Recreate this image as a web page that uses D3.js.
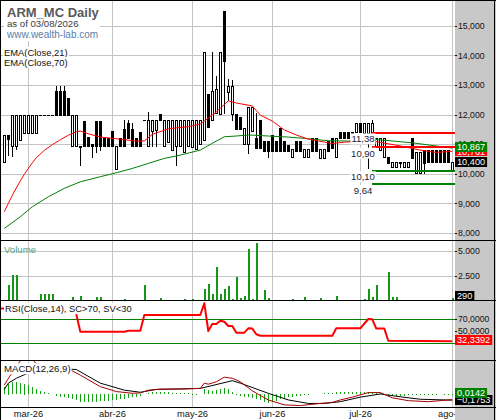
<!DOCTYPE html>
<html><head><meta charset="utf-8">
<script src="https://cdn.jsdelivr.net/npm/d3@7"></script>
<style>body{margin:0;background:#fff}svg{display:block}text{font-family:"Liberation Sans",Arial,sans-serif}</style>
</head><body><svg id="c" width="496" height="420"></svg>
<script>
// ---------- DATA ----------
const opens = [10400,11300,10950,10950,11150,11370,11370,11370,11370,12000,12000,12000,12000,12800,12800,12800,12550,10950,10950,10950,
11780,11250,11000,11780,11780,11200,11200,11450,10150,11200,11500,11720,11500,11200,11400,11800,10950,11450,11480,12020,
10950,11080,10800,10950,10950,10750,10950,10900,10850,11000,11150,12680,11810,12040,12010,15500,12770,12010,12010,11920,
11000,11000,11440,11220,11810,11120,11120,11300,11120,11530,11120,10970,10570,11120,11120,10570,10570,11220,11220,10520,
10520,11100,11220,10570,11420,11420,11420,11420,11420,11700,11380,11380,11380,10940,10800,10570,10570,10220,10220,10400,
10220,10220,11200,10010,10010,10800,10800,10800,10800,10800,10800,10800,10090];
const highs = [11300,11300,12000,12000,12000,12000,12000,12000,12000,12000,12000,12000,12000,12950,12950,12950,12550,12000,12000,10950,
11780,11250,11000,11780,11780,11200,11200,11450,10950,11200,11800,11800,11720,11200,11400,11800,12100,11800,11800,12020,
11800,11800,11800,11800,11800,11800,11800,11800,11800,11800,14100,12680,14120,13300,14100,15500,13200,13170,12010,11920,
11530,12260,12260,12040,11810,11120,11120,11300,11120,11530,11120,10970,10820,11120,11120,10820,10820,11220,11220,10820,
10820,11100,11220,11220,11420,11420,11420,11420,11700,11700,11700,11700,11810,11200,11200,11200,10570,10400,10400,10400,
10400,10400,11200,10740,10740,10800,10800,10800,10800,10800,10800,10800,10400];
const lows = [10400,10630,10600,10850,11150,11370,11370,11370,11370,12000,12000,12000,12000,12000,12000,12000,12000,10950,10950,10300,
10950,10950,10550,10750,10800,10950,10950,10950,10150,10950,10950,11200,10950,10950,10950,11800,10950,10950,10950,11800,
10950,11080,10800,10300,10950,10750,10950,10900,10850,11000,11150,11590,11810,12040,12010,12040,12490,11810,11500,11500,
11000,10690,11440,10880,10860,10780,10570,10780,10780,10780,10780,10780,10570,10780,10780,10570,10570,10780,10780,10520,
10520,10780,10860,10570,11200,11200,11200,11200,11420,11420,11380,10180,11380,10940,10800,10570,10350,10220,10220,10220,
10220,10220,10520,10010,10010,10010,10400,10400,10400,10400,10400,10400,10090];
const closes = [11300,11160,12000,12000,12000,12000,12000,12000,12000,12000,12000,12000,12000,12000,12000,12000,12000,12000,12000,10950,
10950,10950,10950,10950,10950,10950,10950,10950,10950,10950,10950,11200,10950,10950,10950,11800,11800,11800,11800,11800,
11800,11800,11800,11800,11800,11800,11800,11800,11800,11800,14100,11590,12790,12870,14100,13800,12970,12970,11500,11500,
11530,12260,12260,10880,10860,10780,10780,10780,10780,10780,10780,10780,10820,10780,10780,10820,10820,10780,10780,10820,
10820,10780,10860,11220,11200,11200,11200,11200,11700,11420,11700,11700,11700,11200,11200,11200,10350,10400,10400,10400,
10400,10400,10520,10740,10740,10350,10400,10400,10400,10400,10400,10400,10400];
const volumes = [0,1530,2620,2620,100,0,0,0,0,680,680,680,680,100,100,100,100,400,0,500,
100,0,0,400,400,0,0,0,100,0,150,0,0,0,0,1530,100,0,100,300,
0,0,0,100,0,150,0,200,0,0,1120,1700,610,3370,610,1120,1430,200,2350,300,
500,5200,200,5810,100,1020,300,0,0,0,100,0,150,0,0,400,0,100,100,300,
0,0,0,500,0,0,0,0,0,0,150,1120,400,1530,0,100,2860,400,400,0,
100,100,0,100,100,0,0,0,0,0,0,100,290];
const ema21Idx = [0,1,2,3,4,5,6,7,8,10,12,14,16,18,19,21,24,29,33,35,37,41,46,49,51,53,56,58,62,64,67,70,73,76,80,82,85,89,91,94,99,104,108,112];
const ema21Val = [8720,9000,9270,9520,9760,9980,10180,10370,10540,10790,10980,11150,11300,11420,11440,11350,11240,11170,11100,11110,11330,11520,11590,11680,11880,12090,12460,12390,12290,11980,11780,11480,11310,11170,11070,11020,11070,11085,11140,11060,10940,10800,10720,10761];
const ema70Idx = [0,4,7,11,15,19,24,28,32,36,40,44,49,52,55,58,61,66,71,75,81,86,92,102,112];
const ema70Val = [8155,8547,8885,9223,9507,9730,9900,10035,10180,10350,10520,10630,10800,11030,11250,11275,11310,11275,11240,11195,11115,11105,11170,11045,10867];
const rsiIdx = [18,19,30,31,34,35,49,50,51,52,53,54,55,56,57,58,60,61,62,63,64,82,83,89,91,92,93,95,96,112];
const rsiVal = [77.3,48.3,48.3,50,50,76.2,76.2,95.7,49.5,61.2,61.2,66.7,65,57.8,57.8,46.7,46.7,54,53.5,44,41.7,41.7,54,54,69.5,69,53.5,53.5,33.3,32.3392];
const macdIdx = [0,2,4,5,7,8,12,16,17,19,24,28,32,34,36,39,44,49,50,51,53,55,57,59,62,66,70,74,79,82,84,87,91,94,97,101,106,112];
const macdVal = [0.26,0.62,0.95,1.0,1.0,0.86,0.8,0.72,0.66,0.54,0.21,0.07,0.02,0.03,0.11,0.14,0.14,0.16,0.31,0.28,0.35,0.48,0.45,0.35,0.09,-0.17,-0.31,-0.33,-0.27,-0.24,-0.17,-0.09,0.04,0.04,-0.11,-0.19,-0.22,-0.161];
const sigIdx = [0,1,3,6,10,16,18,24,30,34,38,49,57,59,66,71,76,80,84,89,94,99,104,112];
const sigVal = [0.13,0.31,0.45,0.6,0.7,0.71,0.70,0.31,0.11,0.05,0.13,0.16,0.38,0.31,0.02,-0.17,-0.27,-0.27,-0.22,-0.09,0.0,-0.08,-0.15,-0.1753];
const histVal = [0.21,0.30,0.35,0.33,0.32,0.30,0.26,0.21,0.14,0.10,0.05,0.03,0,-0.06,-0.08,-0.10,-0.12,-0.15,-0.17,-0.22,
-0.24,-0.24,-0.24,-0.22,-0.20,-0.20,-0.19,-0.17,-0.17,-0.15,-0.13,-0.11,-0.10,-0.08,-0.06,0,0.04,0.06,0.07,0.07,
0.06,0.05,0.04,0.03,0.02,0.02,0.02,0.01,0.01,0,0.13,0.11,0.10,0.11,0.13,0.16,0.13,0.07,-0.03,-0.06,
-0.08,-0.10,-0.12,-0.15,-0.17,-0.22,-0.25,-0.24,-0.19,-0.15,-0.12,-0.10,-0.08,-0.06,-0.05,-0.04,-0.03,0,0,0,
0.02,0.03,0.04,0.05,0.05,0.06,0.06,0.07,0.07,0.07,0.06,0.06,0.05,0.04,0.02,-0.03,-0.06,-0.06,-0.06,-0.05,
-0.05,-0.04,-0.04,-0.04,-0.03,-0.03,-0.03,-0.02,-0.01,0,0.005,0.01,0.0142];
const monthIdx = [6,27,47,67,89,112];
const monthLabels = ["mar-26","abr-26","may-26","jun-26","jul-26","ago-26"];
const priceTicks = [8000,9000,10000,11000,12000,13000,14000,15000];
const volTicks = [2500,5000];
const rsiTicks = [50,70];
const resLevels = [11380,10900];
const resLabels = ["11,38","10,90"];
const supLevels = [10100,9640];
const supLabels = ["10,10","9,64"];
const levelStartIdx = 92;

// ---------- SETUP ----------
const W = 496, H = 420, PR = 455.5;
const svg = d3.select('#c');
const x = d3.scaleLinear().domain([0,112]).range([4.3,452.3]);
const yP = d3.scaleLinear().domain([8000,15000]).range([233.0,25.7]);
const yV = d3.scaleLinear().domain([0,5000]).range([300.5,251.2]);
const yR = d3.scaleLinear().domain([30,70]).range([342.7,318.7]);
const yM = d3.scaleLinear().domain([0,0.5]).range([394,376.5]);
const px = i => Math.round(x(i));
const enFmt = d3.format(",");
const es = d3.formatLocale({decimal:",",thousands:".",grouping:[3],currency:["","€"]});
const volFmt = es.format(",");
const rsiFmt = es.format(".4f");
const C_GRID = "#c4c4c4";

svg.append('rect').attr('width',W).attr('height',H).attr('fill','#fff');
const defs = svg.append('defs');
function clip(id,y0,y1){defs.append('clipPath').attr('id',id).append('rect').attr('x',0).attr('y',y0).attr('width',PR).attr('height',y1-y0);}
clip('cMain',1,240); clip('cVol',241,300); clip('cRsi',301,360); clip('cMacd',361,407);

const grid = svg.append('g').attr('shape-rendering','crispEdges').attr('stroke',C_GRID).attr('stroke-width',1);
// vertical month gridlines
grid.selectAll('line.v').data(monthIdx).join('line').attr('class','v')
  .attr('x1',d=>px(d)+0.5).attr('x2',d=>px(d)+0.5).attr('y1',0).attr('y2',407);
// horizontal price gridlines
grid.selectAll('line.hp').data(priceTicks).join('line').attr('class','hp')
  .attr('x1',0).attr('x2',PR).attr('y1',d=>Math.round(yP(d))+0.5).attr('y2',d=>Math.round(yP(d))+0.5);
grid.selectAll('line.hv').data(volTicks).join('line').attr('class','hv')
  .attr('x1',0).attr('x2',PR).attr('y1',d=>Math.round(yV(d))+0.5).attr('y2',d=>Math.round(yV(d))+0.5);

// ---------- MAIN PANEL ----------
const main = svg.append('g').attr('clip-path','url(#cMain)');
const idx = d3.range(opens.length);
const cg = main.append('g').attr('shape-rendering','crispEdges');
idx.forEach(i=>{
  const o=opens[i],h=highs[i],l=lows[i],c=closes[i];
  const cx = px(i);
  if(o===h && h===l && l===c){
    const yy = Math.round(yP(c))+0.5;
    cg.append('line').attr('x1',cx-1).attr('x2',cx+2).attr('y1',yy).attr('y2',yy).attr('stroke','#000');
    return;
  }
  cg.append('line').attr('x1',cx+0.5).attr('x2',cx+0.5).attr('y1',Math.round(yP(h))).attr('y2',Math.round(yP(l))+1).attr('stroke','#000');
  const top = Math.round(yP(Math.max(o,c))), bot = Math.round(yP(Math.min(o,c)));
  cg.append('rect').attr('x',cx-0.5).attr('y',top+0.5).attr('width',2).attr('height',Math.max(1,bot-top))
    .attr('fill', c>=o ? '#fff' : '#000').attr('stroke','#000');
});
const lineGen = (ys) => d3.line().x(d=>x(d[0])).y(d=>ys(d[1]));
main.append('path').datum(d3.zip(ema70Idx,ema70Val)).attr('d',lineGen(yP)).attr('fill','none').attr('stroke','#008000').attr('stroke-width',1);
main.append('path').datum(d3.zip(ema21Idx,ema21Val)).attr('d',lineGen(yP)).attr('fill','none').attr('stroke','#ff0000').attr('stroke-width',1);

// support / resistance
const lv = main.append('g').attr('shape-rendering','crispEdges');
function level(v,col){ const yy=Math.round(yP(v)); lv.append('rect').attr('x',x(levelStartIdx)).attr('y',yy-1).attr('width',PR-x(levelStartIdx)).attr('height',2).attr('fill',col); }
resLevels.forEach(v=>level(v,'#ff0000'));
supLevels.forEach(v=>level(v,'#008000'));

function textBg(g,tx,ty,txt,size,fill,anchor,weight){
  const t = g.append('text').attr('x',tx).attr('y',ty).attr('font-size',size).attr('fill',fill)
    .attr('text-anchor',anchor||'start').attr('font-weight',weight||'normal').text(txt);
  const b = t.node().getBBox();
  g.insert('rect',()=>t.node()).attr('x',b.x-1).attr('y',b.y).attr('width',b.width+2).attr('height',b.height).attr('fill','#fff');
  return t;
}
const lab = svg.append('g');
resLevels.forEach((v,k)=>textBg(lab,363,yP(v)+9.5,resLabels[k],9.5,'#1a1a3a','middle'));
supLevels.forEach((v,k)=>textBg(lab,363,yP(v)+9.5,supLabels[k],9.5,'#1a1a3a','middle'));

// title block
const tb = svg.append('g');
tb.append('rect').attr('x',4).attr('y',2).attr('width',96).attr('height',39).attr('fill','#fff');
tb.append('text').attr('x',7).attr('y',16.7).attr('font-size',13).attr('font-weight','bold').attr('fill','#595959').text('ARM_MC Daily');
tb.append('text').attr('x',7).attr('y',27.3).attr('font-size',9.6).attr('fill','#3a3a3a').text('as of 03/08/2026');
tb.append('text').attr('x',7).attr('y',37.5).attr('font-size',10).attr('fill','#5a7ea8').text('www.wealth-lab.com');
textBg(tb,4,55.7,'EMA(Close,21)',9.4,'#111');
textBg(tb,4,66.2,'EMA(Close,70)',9.4,'#111');

// ---------- VOLUME ----------
const vol = svg.append('g').attr('clip-path','url(#cVol)').attr('shape-rendering','crispEdges');
vol.selectAll('rect').data(idx.filter(i=>volumes[i]>0)).join('rect')
  .attr('x',i=>px(i)-0.5).attr('width',2)
  .attr('y',i=>Math.round(yV(volumes[i]))).attr('height',i=>Math.max(1,300-Math.round(yV(volumes[i]))))
  .attr('fill','#169616');
svg.append('text').attr('x',4).attr('y',253.3).attr('font-size',9.6).attr('fill','#5a9e78').text('Volume');

// ---------- RSI ----------
const rg = svg.append('g');
rg.selectAll('line').data([30,70]).join('line').attr('shape-rendering','crispEdges')
  .attr('x1',0).attr('x2',PR).attr('y1',d=>Math.round(yR(d))+0.5).attr('y2',d=>Math.round(yR(d))+0.5)
  .attr('stroke','#008000');
rg.append('path').attr('clip-path','url(#cRsi)').datum(d3.zip(rsiIdx,rsiVal)).attr('d',lineGen(yR))
  .attr('fill','none').attr('stroke','#ff0000').attr('stroke-width',2).attr('stroke-linejoin','round');
rg.append('line').attr('x1',1).attr('x2',4).attr('y1',308.5).attr('y2',308.5).attr('stroke','#ff0000').attr('stroke-width',2);
textBg(rg,5,311.6,'RSI(Close,14), SC>70, SV<30',9.4,'#111');

// ---------- MACD ----------
const mg = svg.append('g').attr('clip-path','url(#cMacd)');
mg.append('g').attr('shape-rendering','crispEdges').selectAll('rect').data(idx.filter(i=>histVal[i]!==0)).join('rect')
  .attr('x',i=>px(i)).attr('width',1)
  .attr('y',i=>Math.round(yM(Math.max(0,histVal[i]))))
  .attr('height',i=>Math.max(1,Math.round(Math.abs(yM(histVal[i])-yM(0)))))
  .attr('fill','#12a012');
mg.append('path').datum(d3.zip(sigIdx,sigVal)).attr('d',lineGen(yM)).attr('fill','none').attr('stroke','#000').attr('stroke-width',1);
mg.append('path').datum(d3.zip(macdIdx,macdVal)).attr('d',lineGen(yM)).attr('fill','none').attr('stroke','#a80000').attr('stroke-width',1);
textBg(svg,4,372.3,'MACD(12,26,9)',9.6,'#111');

// ---------- X AXIS LABELS ----------
svg.append('g').selectAll('text').data(monthIdx).join('text')
  .attr('x',d=>px(d)+0.5).attr('y',416.6).attr('text-anchor','middle').attr('font-size',9.3).attr('fill','#111')
  .text((d,k)=>monthLabels[k]);

// ---------- RIGHT STRIP ----------
svg.append('rect').attr('x',455).attr('y',0).attr('width',41).attr('height',H).attr('fill','#c8c8c8');
const ax = svg.append('g').attr('font-size',8.7).attr('fill','#111');
function tick(y,txt){
  ax.append('line').attr('x1',455).attr('x2',457).attr('y1',Math.round(y)+0.5).attr('y2',Math.round(y)+0.5).attr('stroke','#111').attr('shape-rendering','crispEdges');
  ax.append('text').attr('x',458).attr('y',y+3.2).text(txt);
}
priceTicks.forEach(v=>tick(yP(v),enFmt(v)));
volTicks.forEach(v=>tick(yV(v),volFmt(v)));
rsiTicks.forEach(v=>tick(yR(v),rsiFmt(v)));

function vbox(y,txt,fill){
  const g = svg.append('g');
  const t = g.append('text').attr('x',457).attr('y',y+3.3).attr('font-size',9.2).attr('fill','#fff').text(txt);
  const w = t.node().getComputedTextLength();
  g.insert('rect',()=>t.node()).attr('x',455).attr('y',Math.round(y)-5).attr('width',w+4).attr('height',10).attr('fill',fill);
}
const lastI = opens.length-1;
vbox(yP(ema21Val[ema21Val.length-1]),enFmt(ema21Val[ema21Val.length-1]),'#ff0000');
vbox(yP(ema70Val[ema70Val.length-1])-1.4,enFmt(ema70Val[ema70Val.length-1]),'#008000');
vbox(yP(closes[lastI]),enFmt(closes[lastI]),'#000');
vbox(Math.min(295.5,yV(volumes[lastI])),String(volumes[lastI]),'#000');
vbox(yR(rsiVal[rsiVal.length-1])-1.5,rsiFmt(rsiVal[rsiVal.length-1]),'#ff0000');
vbox(yM(sigVal[sigVal.length-1]),es.format(".4f")(sigVal[sigVal.length-1]),'#000');
vbox(yM(histVal[lastI])-1,es.format(".4f")(histVal[lastI]),'#008000');

// ---------- BORDERS ----------
const bd = svg.append('g').attr('stroke','#000').attr('shape-rendering','crispEdges');
[0.5,240.5,300.5,360.5,407.5].forEach(yy=>bd.append('line').attr('x1',0).attr('x2',W).attr('y1',yy).attr('y2',yy));
bd.append('line').attr('x1',0.5).attr('x2',0.5).attr('y1',0).attr('y2',H);
bd.append('line').attr('x1',494.5).attr('x2',494.5).attr('y1',0).attr('y2',H);
</script></body></html>
